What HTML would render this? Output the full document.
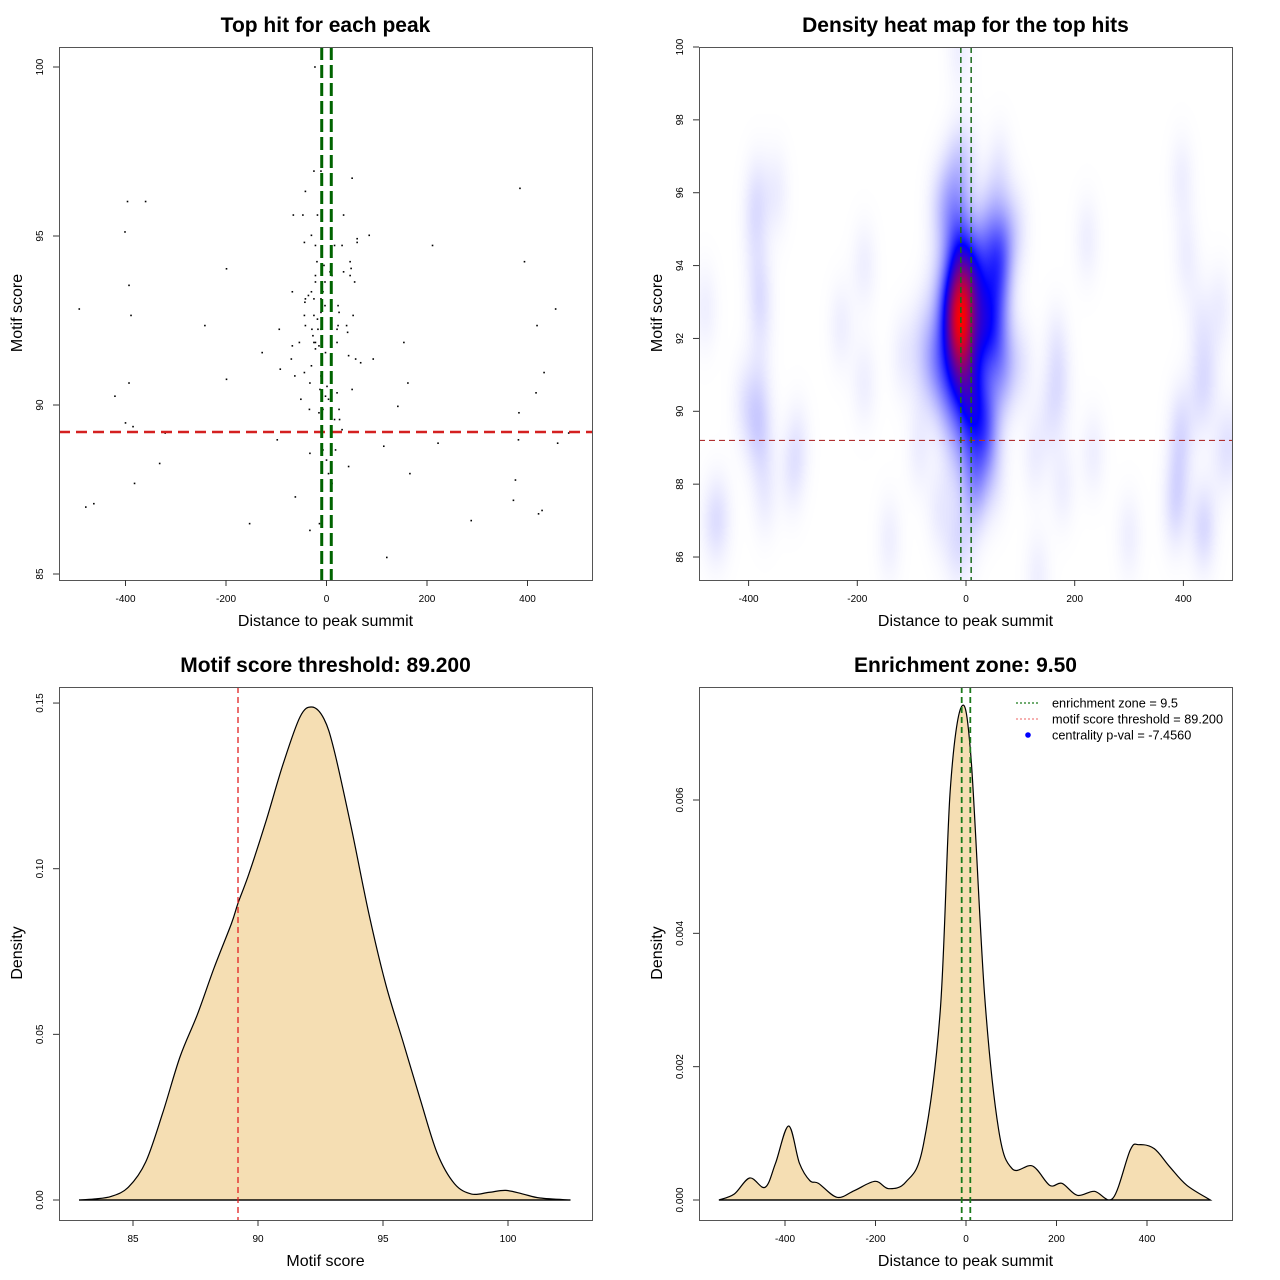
<!DOCTYPE html>
<html><head><meta charset="utf-8"><style>
html,body{margin:0;padding:0;background:#fff;}
#wrap{position:relative;width:1280px;height:1280px;overflow:hidden;}
#heat{position:absolute;left:699px;top:47px;}
svg{position:absolute;left:0;top:0;}
text{font-family:"Liberation Sans",sans-serif;}
</style></head><body>
<div id="wrap">
<canvas id="heat" width="533" height="533"></canvas>
<svg id="svg" width="1280" height="1280" xmlns="http://www.w3.org/2000/svg"></svg>
</div>
<script>
// ---- data ----
const hitX = [-23,-25,-11,51,385,-42,-396,-360,-66,-47,-18,34,-401,-30,61,61,85,-44,-22,16,31,211,-199,-19,47,394,-5,7,34,49,-22,11,47,-22,-3,56,-393,-68,-30,-7,-36,-42,-25,-43,-11,-3,23,-492,456,-11,25,-389,-44,-25,53,-18,-242,-42,23,40,419,-94,-29,-17,-11,21,42,-27,-54,-25,-22,9,21,154,-68,-22,-15,-128,-2,-70,44,58,68,93,-30,-92,-11,-63,-44,-199,-393,-33,162,433,1,-13,51,-421,21,417,-2,-51,4,142,-34,-7,25,-15,383,16,26,-400,-385,31,-321,482,-98,382,222,460,114,-33,-7,18,0,-332,44,4,166,11,-382,376,-62,372,-479,-463,288,422,429,-153,-14,-33,120];
const hitScore = [100.0,96.92,96.92,96.71,96.41,96.32,96.02,96.02,95.62,95.62,95.62,95.62,95.12,95.02,94.92,94.81,95.02,94.81,94.72,94.72,94.72,94.72,94.03,94.24,94.24,94.24,94.13,93.94,93.94,94.04,93.83,93.83,93.83,93.64,93.64,93.64,93.54,93.35,93.35,93.35,93.24,93.14,93.14,93.04,93.14,92.94,92.94,92.84,92.84,92.74,92.74,92.65,92.65,92.65,92.65,92.54,92.35,92.35,92.35,92.35,92.35,92.24,92.24,92.24,92.24,92.24,92.15,92.05,91.85,91.85,91.85,91.85,91.85,91.85,91.75,91.66,91.75,91.55,91.55,91.36,91.46,91.36,91.25,91.36,91.16,91.06,90.86,90.86,90.96,90.76,90.65,90.65,90.65,90.96,90.55,90.46,90.46,90.26,90.36,90.36,90.26,90.17,90.17,89.96,89.87,89.87,89.87,89.77,89.77,89.57,89.57,89.47,89.36,89.27,89.17,89.17,88.97,88.97,88.87,88.87,88.78,88.57,88.67,88.67,88.37,88.27,88.18,87.97,87.97,87.68,87.68,87.78,87.28,87.18,86.98,87.08,86.58,86.78,86.88,86.49,86.49,86.29,85.49];
const scoreX = [82.84,83.45,84.14,84.82,85.51,86.19,86.88,87.57,88.25,88.94,89.2,89.63,90.31,91.0,91.68,92.16,92.64,93.05,93.74,94.43,95.11,95.8,96.49,97.17,97.86,98.54,99.23,99.91,100.6,101.28,102.5];
const scoreDens = [0,0.0003,0.0011,0.0039,0.0115,0.0263,0.0432,0.0559,0.0702,0.0835,0.0896,0.0983,0.1141,0.1315,0.1458,0.1488,0.1452,0.1356,0.1121,0.0866,0.0651,0.0478,0.0304,0.0141,0.0049,0.0018,0.0023,0.0029,0.0018,0.0006,0];
const distX = [-546,-512,-478,-444,-421,-392,-368,-345,-326,-285,-247,-201,-171,-133,-95,-57,-35,-10,11,41,72,102,147,185,212,246,284,325,363,382,416,450,488,540];
const distDens = [0,0.00009,0.00033,0.00019,0.00055,0.00111,0.00055,0.00029,0.00025,0.00004,0.00014,0.00028,0.00017,0.00027,0.0008,0.00283,0.00613,0.0074,0.00664,0.00308,0.00106,0.00047,0.00051,0.00022,0.00025,0.00007,0.00013,0.00003,0.00075,0.00083,0.00077,0.0005,0.00022,0];
const distTicks = [-400,-200,0,200,400];
const scoreTicks = [85,90,95,100];
const heatYTicks = [86,88,90,92,94,96,98,100];
const bottomLeftXTicks = [85,90,95,100];
const densTicksL = [0,0.05,0.10,0.15];
const densTicksLLabels = ["0.00","0.05","0.10","0.15"];
const densTicksR = [0,0.002,0.004,0.006];
const densTicksRLabels = ["0.000","0.002","0.004","0.006"];
const threshold = 89.2;
const zone = 9.5;

// ---- scales ----
const sx1 = v => 326.5 + v*0.5025, sy1 = v => 574 - (v-85)*33.8;
const sx2 = v => 966 + v*0.5435, sy2 = v => 47 + (100-v)*36.43;
const sx3 = v => 133 + (v-85)*25, sy3 = v => 1200 - v*3313;
const sx4 = v => 966 + v*0.4525, sy4 = v => 1200 - v*66667;

const svg = document.getElementById('svg');
const NS = 'http://www.w3.org/2000/svg';
function mk(tag, attrs, parent){const e=document.createElementNS(NS,tag);for(const k in attrs)e.setAttribute(k,attrs[k]);(parent||svg).appendChild(e);return e;}
function txt(s, attrs){const e=mk('text',attrs);e.textContent=s;return e;}

function panel(L,T,title,xlab,ylab,name){
  const g=mk('g',{});
  
  
  const t=txt(title,{x:(L+L+533)/2,y:T-15,'text-anchor':'middle','font-size':21,'font-weight':'bold',fill:'#000'});
  
  
  const xl=txt(xlab,{x:(L+L+533)/2,y:T+579,'text-anchor':'middle','font-size':16,fill:'#000'});
  
  
  const cy=T+266;
  const yl=txt(ylab,{x:L-37,y:cy,'text-anchor':'middle','font-size':16,fill:'#000',transform:`rotate(-90 ${L-37} ${cy})`});
  
  
  return g;
}
function box(L,T,name){
  const r=mk('rect',{x:L+0.5,y:T+0.5,width:533,height:533,fill:'none',stroke:'#555','stroke-width':1});
  
  
}
function xTicks(vals,labels,sx,B,name){
  vals.forEach((v,i)=>{
    const x=sx(v);
    mk('line',{x1:x,x2:x,y1:B,y2:B+6,stroke:'#333'});
    const t=txt(labels[i],{x:x,y:B+22,'text-anchor':'middle','font-size':10,fill:'#000'});
    
    
  });
}
function yTicks(vals,labels,sy,L,name){
  vals.forEach((v,i)=>{
    const y=sy(v);
    mk('line',{x1:L,x2:L-6,y1:y,y2:y,stroke:'#333'});
    const t=txt(labels[i],{x:L-16,y:y,'text-anchor':'middle','font-size':10,fill:'#000',transform:`rotate(-90 ${L-16} ${y})`});
    
    
  });
}

// ---- panel 1: scatter ----
panel(59,47,'Top hit for each peak','Distance to peak summit','Motif score','scatter-panel');
hitX.forEach((v,i)=>{
  const p=mk('rect',{x:sx1(v)-0.8,y:sy1(hitScore[i])-0.8,width:1.6,height:1.6,fill:'#000'});
  
  
});
let l;
l=mk('line',{x1:59,x2:592,y1:sy1(threshold),y2:sy1(threshold),stroke:'#d42020','stroke-width':2.5,'stroke-dasharray':'11,6'});
 
[-zone,zone].forEach(z=>{
  l=mk('line',{x1:sx1(z),x2:sx1(z),y1:47,y2:580,stroke:'#006400','stroke-width':3,'stroke-dasharray':'13,5'});
   
});
box(59,47,'scatter-plot-box');
xTicks(distTicks,distTicks.map(String),sx1,580,'scatter-x');
yTicks(scoreTicks,scoreTicks.map(String),sy1,59,'scatter-y');

// ---- panel 2: heatmap ----
panel(699,47,'Density heat map for the top hits','Distance to peak summit','Motif score','heatmap-panel');
(function(){
  const c=document.getElementById('heat'),ctx=c.getContext('2d');
  const W=533,H=533,img=ctx.createImageData(W,H),vals=new Float32Array(W*H);
  const bx=17,by=0.9;let mx=0;
  const pxs=hitX.map(v=>sx2(v)+6), pys=hitScore.map(sy2);
  const sgx=bx*0.5435, sgy=by*36.43;
  for(let j=0;j<H;j++){const yy=47+j;for(let i=0;i<W;i++){const xx=699+i;let s=0;
    for(let k=0;k<pxs.length;k++){const dx=(xx-pxs[k])/sgx,dy=(yy-pys[k])/sgy;const d=dx*dx+dy*dy;if(d<20)s+=Math.exp(-0.5*d);}
    vals[j*W+i]=s;if(s>mx)mx=s;}}
  for(let p=0;p<W*H;p++){let t=vals[p]/mx;let r,g,b;
    if(t<0.5){const u=Math.pow(t/0.5,1.3);r=255*(1-u);g=255*(1-u);b=255;}else{const u=(t-0.5)/0.5;r=255*u;g=0;b=255*(1-u);}
    img.data[p*4]=r;img.data[p*4+1]=g;img.data[p*4+2]=b;img.data[p*4+3]=255;}
  ctx.putImageData(img,0,0);
})();
l=mk('line',{x1:699,x2:1232,y1:sy2(threshold),y2:sy2(threshold),stroke:'#b03030','stroke-width':1.2,'stroke-dasharray':'6,4'});
 
[-zone,zone].forEach(z=>{
  l=mk('line',{x1:sx2(z),x2:sx2(z),y1:47,y2:580,stroke:'#1a6a1a','stroke-width':1.5,'stroke-dasharray':'6,4'});
   
});
box(699,47,'heatmap-box');
xTicks(distTicks,distTicks.map(String),sx2,580,'heat-x');
yTicks(heatYTicks,heatYTicks.map(String),sy2,699,'heat-y');

// ---- panel 3: score density ----
panel(59,687,'Motif score threshold: 89.200','Motif score','Density','score-density-panel');
function area(xs,ys,sx,sy,name){
  let d='M'+sx(xs[0])+','+sy(0);
  const pts=xs.map((v,i)=>[sx(v),sy(ys[i])]);
  d+=' L'+pts[0][0]+','+pts[0][1];
  for(let i=0;i<pts.length-1;i++){const p0=pts[Math.max(0,i-1)],p1=pts[i],p2=pts[i+1],p3=pts[Math.min(pts.length-1,i+2)];
    d+=` C${p1[0]+(p2[0]-p0[0])/6},${p1[1]+(p2[1]-p0[1])/6} ${p2[0]-(p3[0]-p1[0])/6},${p2[1]-(p3[1]-p1[1])/6} ${p2[0]},${p2[1]}`;}
  d+=' L'+sx(xs[xs.length-1])+','+sy(0)+' Z';
  const p=mk('path',{d:d,fill:'#f5deb3',stroke:'#000','stroke-width':1.2});
  
  
  mk('line',{x1:sx(xs[0]),x2:sx(xs[xs.length-1]),y1:sy(0),y2:sy(0),stroke:'#000','stroke-width':1.2});
}
area(scoreX,scoreDens,sx3,sy3,'score-density-curve');
l=mk('line',{x1:sx3(threshold),x2:sx3(threshold),y1:687,y2:1220,stroke:'#e02020','stroke-width':1.3,'stroke-dasharray':'6,4'});
 
box(59,687,'score-density-box');
xTicks(bottomLeftXTicks,bottomLeftXTicks.map(String),sx3,1220,'score-x');
yTicks(densTicksL,densTicksLLabels,sy3,59,'score-y');

// ---- panel 4: distance density ----
panel(699,687,'Enrichment zone: 9.50','Distance to peak summit','Density','distance-density-panel');
area(distX,distDens,sx4,sy4,'distance-density-curve');
[-zone,zone].forEach(z=>{
  l=mk('line',{x1:sx4(z),x2:sx4(z),y1:687,y2:1220,stroke:'#1a7a1a','stroke-width':1.8,'stroke-dasharray':'6,4'});
   
});
box(699,687,'distance-density-box');
xTicks(distTicks,distTicks.map(String),sx4,1220,'distance-x');
yTicks(densTicksR,densTicksRLabels,sy4,699,'distance-y');
// legend
const lg=mk('g',{});


mk('line',{x1:1016,x2:1040,y1:703,y2:703,stroke:'#1a7a1a','stroke-width':1.2,'stroke-dasharray':'2,2'},lg);
mk('line',{x1:1016,x2:1040,y1:719,y2:719,stroke:'#f08080','stroke-width':1.2,'stroke-dasharray':'2,2'},lg);
mk('circle',{cx:1028,cy:735,r:2.8,fill:'#0000ff'},lg);
[['enrichment zone = 9.5',707.5],['motif score threshold = 89.200',723.5],['centrality p-val = -7.4560',739.5]].forEach(a=>{
  const t=document.createElementNS(NS,'text');t.textContent=a[0];
  t.setAttribute('x',1052);t.setAttribute('y',a[1]);t.setAttribute('font-size',12.7);
  
  
  lg.appendChild(t);
});
</script>
</body></html>
